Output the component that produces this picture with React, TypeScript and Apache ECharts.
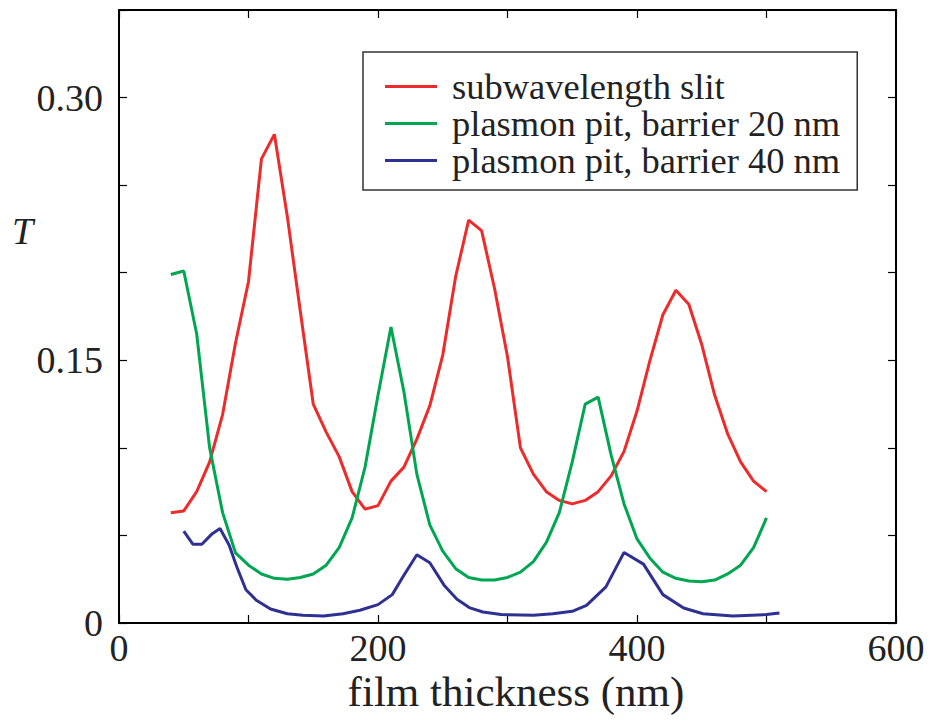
import React, { useEffect, useRef } from "react";
import * as echarts from "echarts";

const thickness = [40, 50, 60, 70, 80, 90, 100, 110, 120, 130, 140, 150, 160, 170, 180, 190, 200, 210, 220, 230, 240, 250, 260, 270, 280, 290, 300, 310, 320, 330, 340, 350, 360, 370, 380, 390, 400, 410, 420, 430, 440, 450, 460, 470, 480, 490, 500];
const slitT = [0.063, 0.064, 0.075, 0.092, 0.119, 0.160, 0.195, 0.265, 0.279, 0.232, 0.178, 0.125, 0.109, 0.095, 0.075, 0.065, 0.067, 0.081, 0.089, 0.105, 0.124, 0.153, 0.198, 0.230, 0.224, 0.191, 0.152, 0.100, 0.085, 0.075, 0.070, 0.068, 0.070, 0.075, 0.084, 0.098, 0.121, 0.150, 0.176, 0.190, 0.182, 0.159, 0.130, 0.108, 0.092, 0.081, 0.075];
const pit20T = [0.199, 0.201, 0.165, 0.100, 0.063, 0.040, 0.033, 0.028, 0.0255, 0.025, 0.026, 0.028, 0.033, 0.043, 0.060, 0.089, 0.130, 0.169, 0.132, 0.085, 0.056, 0.041, 0.031, 0.026, 0.0245, 0.0245, 0.026, 0.029, 0.035, 0.046, 0.063, 0.092, 0.125, 0.129, 0.096, 0.068, 0.048, 0.037, 0.029, 0.0255, 0.024, 0.0235, 0.0245, 0.028, 0.033, 0.043, 0.060];
const pit40X = [50, 57, 64, 72, 78, 85, 91, 98, 106, 117, 130, 142, 158, 173, 186, 200, 211, 220, 230, 240, 251, 261, 271, 281, 295, 320, 335, 350, 361, 376, 390, 405, 420, 436, 451, 474, 500, 510];
const pit40T = [0.0525, 0.045, 0.045, 0.051, 0.054, 0.0445, 0.032, 0.019, 0.013, 0.008, 0.0053, 0.0044, 0.004, 0.0053, 0.0073, 0.0105, 0.0162, 0.0273, 0.039, 0.0344, 0.0216, 0.0136, 0.0086, 0.0063, 0.0048, 0.0044, 0.0053, 0.0067, 0.0101, 0.0206, 0.0403, 0.0336, 0.0162, 0.0086, 0.0053, 0.004, 0.0048, 0.0057];

const seriesNames = ["subwavelength slit", "plasmon pit, barrier 20 nm", "plasmon pit, barrier 40 nm"];
const seriesColors = ["#ED2B2B", "#00A651", "#2E3192"];
const xLabels = [0, 200, 400, 600];
const yLabels = [0, 0.15, 0.3];
const xTitle = "film thickness (nm)";
const yTitle = "T";

const FONT = "Liberation Serif";

export default function App() {
  const ref = useRef<HTMLDivElement>(null);
  useEffect(() => {
    if (!ref.current) return;
    const chart = echarts.init(ref.current, undefined, { renderer: "svg" });
    const axisLine = { show: true, onZero: false, lineStyle: { color: "#000", width: 2 } };
    const axisTick = { show: true, inside: true, length: 8, lineStyle: { color: "#000", width: 1.2 } };
    const xFmt = (v: number) => (xLabels.indexOf(Math.round(v)) >= 0 ? String(Math.round(v)) : "");
    const yFmt = (v: number) => {
      const r = Math.round(v * 100);
      for (const l of yLabels) {
        if (Math.round(l * 100) === r) return r === 0 ? "0" : l.toFixed(2);
      }
      return "";
    };
    chart.setOption({
      animation: false,
      backgroundColor: "#fff",
      grid: { left: 119, right: 37, top: 10, bottom: 98, containLabel: false },
      legend: {
        show: true,
        orient: "vertical",
        left: 363,
        top: 52,
        data: seriesNames,
        icon: "rect",
        itemWidth: 52,
        itemHeight: 3,
        itemGap: 0,
        padding: [16, 17, 11, 22],
        borderColor: "#333",
        borderWidth: 1.5,
        backgroundColor: "#fff",
        textStyle: { fontFamily: FONT, fontSize: 36.5, color: "#222", lineHeight: 37, padding: [0, 0, 0, 10] },
      },
      xAxis: [
        {
          type: "value", min: 0, max: 600, interval: 100, position: "bottom",
          axisLine, axisTick, splitLine: { show: false },
          axisLabel: { formatter: xFmt, fontFamily: FONT, fontSize: 38, color: "#222", margin: 6 },
        },
        {
          type: "value", min: 0, max: 600, interval: 100, position: "top",
          axisLine, axisTick, splitLine: { show: false }, axisLabel: { show: false },
        },
      ],
      yAxis: [
        {
          type: "value", min: 0, max: 0.35, interval: 0.05, position: "left",
          axisLine, axisTick, splitLine: { show: false },
          axisLabel: { formatter: yFmt, fontFamily: FONT, fontSize: 38, color: "#222", margin: 16 },
        },
        {
          type: "value", min: 0, max: 0.35, interval: 0.05, position: "right",
          axisLine, axisTick, splitLine: { show: false }, axisLabel: { show: false },
        },
      ],
      graphic: [
        { type: "text", left: 12, top: 212, style: { text: yTitle, fontFamily: FONT, fontStyle: "italic", fontSize: 38, fill: "#222" } },
        { type: "text", x: 516, y: 670, style: { text: xTitle, fontFamily: FONT, fontSize: 43, fill: "#222", textAlign: "center", textVerticalAlign: "top" } },
      ],
      series: [
        {
          name: seriesNames[0], type: "line", showSymbol: false, symbol: "none",
          lineStyle: { color: seriesColors[0], width: 3 }, itemStyle: { color: seriesColors[0] },
          data: thickness.map((x, i) => [x, slitT[i]]),
        },
        {
          name: seriesNames[1], type: "line", showSymbol: false, symbol: "none",
          lineStyle: { color: seriesColors[1], width: 3 }, itemStyle: { color: seriesColors[1] },
          data: thickness.map((x, i) => [x, pit20T[i]]),
        },
        {
          name: seriesNames[2], type: "line", showSymbol: false, symbol: "none",
          lineStyle: { color: seriesColors[2], width: 3 }, itemStyle: { color: seriesColors[2] },
          data: pit40X.map((x, i) => [x, pit40T[i]]),
        },
      ],
    });
    return () => chart.dispose();
  }, []);
  return <div ref={ref} style={{ width: 933, height: 721, position: "fixed", left: 0, top: 0 }} />;
}
